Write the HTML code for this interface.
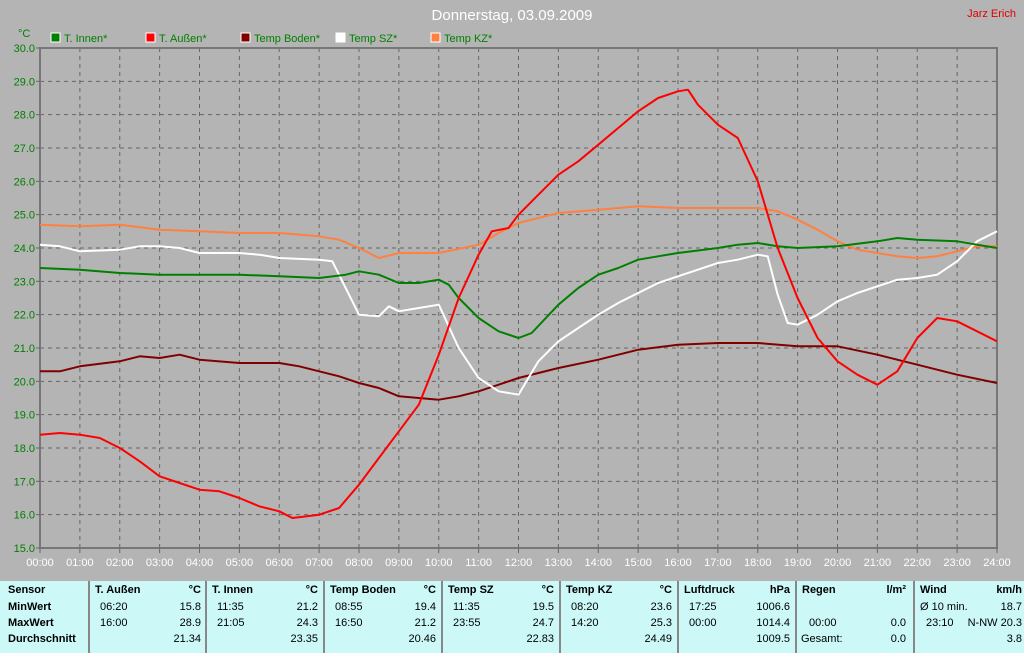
<!DOCTYPE html>
<html><head><meta charset="utf-8"><style>
body{margin:0;width:1024px;height:653px;background:#b4b4b4;overflow:hidden;font-family:"Liberation Sans",sans-serif}
svg{position:absolute;left:0;top:0}
#tbl{position:absolute;left:0;top:581px;width:1024px;height:72px;background:#ccf8f8;font-size:11px;color:#000}
.c{position:absolute;white-space:nowrap}
.b{font-weight:bold}
.sep{position:absolute;top:0;width:2px;height:72px;background:#888}
</style></head><body>
<svg id="s" width="1024" height="581" font-family="Liberation Sans, sans-serif"></svg>
<div id="tbl"></div>
<script>
const X=h=>40+h*39.875, Y=t=>48+(30-t)*33.333;
let s='';
s+='<text x="512" y="20" fill="#fff" font-size="15" text-anchor="middle">Donnerstag, 03.09.2009</text>';
s+='<text x="1016" y="17" fill="#e00000" font-size="11" text-anchor="end">Jarz Erich</text>';
s+='<text x="18" y="37" fill="#008000" font-size="11">°C</text>';
const leg=[["T. Innen*","#008000",51],["T. Außen*","#ff0000",146],["Temp Boden*","#800000",241],["Temp SZ*","#ffffff",336],["Temp KZ*","#ff8040",431]];
for(const [n,c,x] of leg){s+=`<rect x="${x}" y="33" width="9" height="9" fill="${c}" stroke="#fff"/><text x="${x+13}" y="42" fill="#008000" font-size="11">${n}</text>`;}
// grid
for(let h=1;h<24;h++)s+=`<line x1="${X(h)}" y1="48" x2="${X(h)}" y2="548" stroke="#666" stroke-dasharray="4,4"/>`;
for(let t=16;t<30;t++)s+=`<line x1="40" y1="${Y(t)}" x2="997" y2="${Y(t)}" stroke="#666" stroke-dasharray="4,4"/>`;
s+='<rect x="40" y="48" width="957" height="500" fill="none" stroke="#777" stroke-width="2"/>';
for(let t=15;t<=30;t++){s+=`<text x="35" y="${Y(t)+4}" fill="#008000" font-size="11" text-anchor="end">${t}.0</text><line x1="36" y1="${Y(t)}" x2="40" y2="${Y(t)}" stroke="#666"/>`;}
for(let h=0;h<=24;h++){s+=`<text x="${X(h)}" y="566" fill="#fff" font-size="11" text-anchor="middle">${String(h).padStart(2,'0')}:00</text><line x1="${X(h)}" y1="548" x2="${X(h)}" y2="553" stroke="#666"/>`;}
const data={
"#800000":[[0,20.3],[.5,20.3],[1,20.45],[2,20.6],[2.5,20.75],[3,20.7],[3.5,20.8],[4,20.65],[5,20.55],[6,20.55],[6.5,20.45],[7,20.3],[7.5,20.15],[8,19.95],[8.5,19.8],[9,19.55],[10,19.45],[10.5,19.55],[11,19.7],[11.5,19.9],[12,20.1],[13,20.4],[14,20.65],[15,20.95],[16,21.1],[17,21.15],[18,21.15],[19,21.05],[20,21.05],[21,20.8],[22,20.5],[23,20.2],[24,19.95]],
"#ff8040":[[0,24.7],[1,24.65],[2,24.7],[3,24.55],[4,24.5],[5,24.45],[6,24.45],[7,24.35],[7.5,24.25],[8,24.0],[8.5,23.7],[9,23.85],[10,23.85],[11,24.1],[11.5,24.45],[12,24.75],[12.5,24.9],[13,25.05],[14,25.15],[15,25.25],[16,25.2],[17,25.2],[18,25.2],[18.5,25.1],[19,24.85],[19.5,24.55],[20,24.2],[20.5,23.95],[21,23.85],[21.5,23.75],[22,23.7],[22.5,23.75],[23,23.9],[23.5,24.05],[24,24.05]],
"#ffffff":[[0,24.1],[.5,24.05],[1,23.9],[2,23.95],[2.5,24.05],[3,24.05],[3.5,24.0],[4,23.85],[5,23.85],[5.5,23.8],[6,23.7],[7,23.65],[7.33,23.6],[7.75,22.6],[8,22.0],[8.5,21.95],[8.75,22.25],[9,22.1],[9.5,22.2],[10,22.3],[10.5,21.0],[11,20.1],[11.5,19.7],[12,19.6],[12.5,20.6],[13,21.2],[13.5,21.6],[14,22.0],[14.5,22.35],[15,22.65],[15.5,22.95],[16,23.15],[16.5,23.35],[17,23.55],[17.5,23.65],[18,23.8],[18.25,23.75],[18.5,22.6],[18.75,21.75],[19,21.7],[19.5,22.0],[20,22.4],[20.5,22.65],[21,22.85],[21.5,23.05],[22,23.1],[22.5,23.2],[23,23.6],[23.5,24.2],[24,24.5]],
"#008000":[[0,23.4],[1,23.35],[2,23.25],[3,23.2],[4,23.2],[5,23.2],[6,23.15],[7,23.1],[7.67,23.2],[8,23.3],[8.5,23.2],[9,22.95],[9.5,22.95],[10,23.05],[10.25,22.9],[10.5,22.5],[11,21.9],[11.5,21.5],[12,21.3],[12.33,21.45],[13,22.3],[13.5,22.8],[14,23.2],[14.5,23.4],[15,23.65],[15.5,23.75],[16,23.85],[17,24.0],[17.5,24.1],[18,24.15],[18.5,24.05],[19,24.0],[20,24.05],[21,24.2],[21.5,24.3],[22,24.25],[23,24.2],[23.5,24.1],[24,24.0]],
"#ff0000":[[0,18.4],[.5,18.45],[1,18.4],[1.5,18.3],[2,18.0],[2.5,17.6],[3,17.15],[3.5,16.95],[4,16.75],[4.5,16.7],[5,16.5],[5.5,16.25],[6,16.1],[6.33,15.9],[7,16.0],[7.5,16.2],[8,16.9],[8.5,17.7],[9,18.5],[9.5,19.3],[10,20.8],[10.5,22.5],[11,23.8],[11.33,24.5],[11.75,24.6],[12,25.0],[12.5,25.6],[13,26.2],[13.5,26.6],[14,27.1],[14.5,27.6],[15,28.1],[15.5,28.5],[16,28.7],[16.25,28.75],[16.5,28.3],[17,27.7],[17.5,27.3],[18,26.0],[18.5,24.0],[19,22.5],[19.5,21.3],[20,20.6],[20.5,20.2],[21,19.9],[21.5,20.3],[22,21.3],[22.5,21.9],[23,21.8],[23.5,21.5],[24,21.2]]};
for(const c in data){s+=`<polyline fill="none" stroke="${c}" stroke-width="2" stroke-linejoin="round" points="${data[c].map(p=>X(p[0]).toFixed(1)+','+Y(p[1]).toFixed(1)).join(' ')}"/>`;}
document.getElementById('s').innerHTML=s;
// table
let t='';
const rows=[14,31,47,63];
const seps=[88,205,323,441,559,677,795,913];
for(const x of seps)t+=`<div class="sep" style="left:${x}px"></div>`;
const L=(x,y,txt,b)=>t+=`<div class="c${b?' b':''}" style="left:${x}px;top:${y-11}px">${txt}</div>`;
const R=(x,y,txt,b)=>t+=`<div class="c${b?' b':''}" style="right:${1024-x}px;top:${y-11}px">${txt}</div>`;
['Sensor','MinWert','MaxWert','Durchschnitt'].forEach((v,i)=>L(8,rows[i],v,1));
const cols=[
["T. Außen","°C","06:20","15.8","16:00","28.9","21.34"],
["T. Innen","°C","11:35","21.2","21:05","24.3","23.35"],
["Temp Boden","°C","08:55","19.4","16:50","21.2","20.46"],
["Temp SZ","°C","11:35","19.5","23:55","24.7","22.83"],
["Temp KZ","°C","08:20","23.6","14:20","25.3","24.49"],
["Luftdruck","hPa","17:25","1006.6","00:00","1014.4","1009.5"]];
cols.forEach((c,i)=>{const x=seps[i];L(x+7,rows[0],c[0],1);R(x+113,rows[0],c[1],1);L(x+12,rows[1],c[2]);R(x+113,rows[1],c[3]);L(x+12,rows[2],c[4]);R(x+113,rows[2],c[5]);R(x+113,rows[3],c[6]);});
L(802,rows[0],'Regen',1);R(906,rows[0],'l/m²',1);L(809,rows[2],'00:00');R(906,rows[2],'0.0');L(801,rows[3],'Gesamt:');R(906,rows[3],'0.0');
L(920,rows[0],'Wind',1);R(1022,rows[0],'km/h',1);L(920,rows[1],'Ø 10 min.');R(1022,rows[1],'18.7');L(926,rows[2],'23:10');R(1022,rows[2],'N-NW 20.3');R(1022,rows[3],'3.8');
document.getElementById('tbl').innerHTML=t;
</script>
</body></html>
